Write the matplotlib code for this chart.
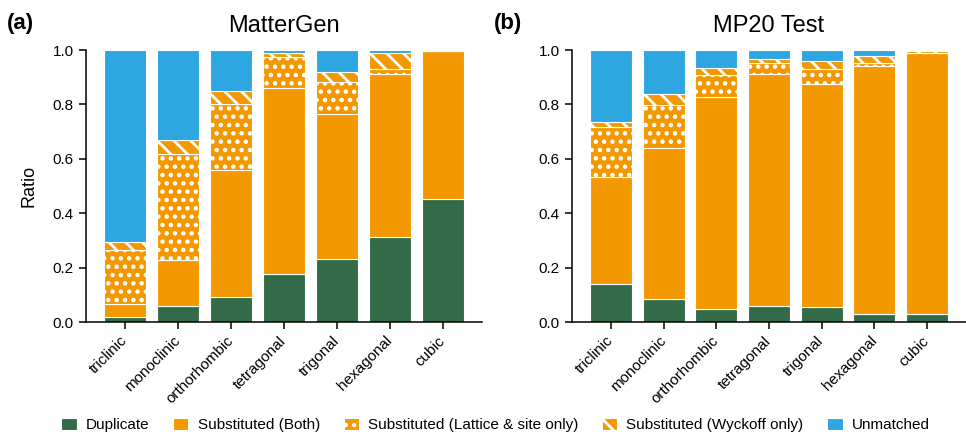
import matplotlib
matplotlib.use("Agg")
import matplotlib.pyplot as plt
import numpy as np

plt.rcParams["font.family"] = ["Liberation Sans", "DejaVu Sans"]
plt.rcParams["hatch.linewidth"] = 2.0

systems = ["triclinic", "monoclinic", "orthorhombic", "tetragonal",
           "trigonal", "hexagonal", "cubic"]

categories = ["Duplicate", "Substituted (Both)",
              "Substituted (Lattice & site only)",
              "Substituted (Wyckoff only)", "Unmatched"]

# MatterGen fractions per crystal system
mg_duplicate = [0.020, 0.060, 0.093, 0.176, 0.233, 0.312, 0.453]
mg_both      = [0.045, 0.168, 0.465, 0.683, 0.531, 0.599, 0.543]
mg_lattice   = [0.200, 0.390, 0.245, 0.117, 0.120, 0.018, 0.000]
mg_wyckoff   = [0.030, 0.050, 0.048, 0.012, 0.034, 0.059, 0.000]
mg_unmatched = [0.705, 0.332, 0.149, 0.012, 0.082, 0.012, 0.000]

# MP20 test-set fractions per crystal system
mp_duplicate = [0.140, 0.085, 0.048, 0.060, 0.054, 0.028, 0.028]
mp_both      = [0.394, 0.555, 0.778, 0.852, 0.821, 0.913, 0.960]
mp_lattice   = [0.184, 0.159, 0.081, 0.039, 0.055, 0.010, 0.000]
mp_wyckoff   = [0.018, 0.038, 0.026, 0.015, 0.028, 0.028, 0.008]
mp_unmatched = [0.264, 0.163, 0.067, 0.034, 0.042, 0.021, 0.004]

green = "#336a48"
orange = "#f39800"
blue = "#2ea7e0"
styles = [
    dict(color=green, hatch=None),
    dict(color=orange, hatch=None),
    dict(color=orange, hatch=".."),
    dict(color=orange, hatch="\\\\"),
    dict(color=blue, hatch=None),
]

fig = plt.figure(figsize=(9.66, 4.34), dpi=100)
ax_a = fig.add_axes([86 / 966, 112 / 434, 396 / 966, 272 / 434])
ax_b = fig.add_axes([572 / 966, 112 / 434, 394 / 966, 272 / 434])


def stacked(ax, series, title):
    x = np.arange(len(systems))
    bottom = np.zeros(len(systems))
    containers = []
    for vals, st, name in zip(series, styles, categories):
        vals = np.asarray(vals)
        bc = ax.bar(x, vals, width=0.8, bottom=bottom, color=st["color"],
                    hatch=st["hatch"], edgecolor="white", linewidth=0.8,
                    label=name)
        containers.append(bc)
        bottom = bottom + vals
    ax.set_xlim(-0.74, 6.74)
    ax.set_ylim(0, 1.0)
    ax.set_yticks(np.arange(0, 1.01, 0.2))
    ax.set_yticklabels([f"{v:.1f}" for v in np.arange(0, 1.01, 0.2)])
    ax.set_xticks(x)
    ax.set_xticklabels(systems, rotation=45, ha="right", va="center",
                       rotation_mode="anchor")
    for side in ("top", "right"):
        ax.spines[side].set_visible(False)
    for side in ("left", "bottom"):
        ax.spines[side].set_linewidth(1.1)
    ax.tick_params(axis="both", labelsize=11, length=5, width=1.1,
                   direction="out", pad=4)
    ax.tick_params(axis="x", pad=7)
    ax.set_title(title, fontsize=17, pad=13)
    return containers


conts = stacked(ax_a, [mg_duplicate, mg_both, mg_lattice, mg_wyckoff,
                       mg_unmatched], "MatterGen")
stacked(ax_b, [mp_duplicate, mp_both, mp_lattice, mp_wyckoff,
               mp_unmatched], "MP20 Test")

ax_a.set_ylabel("Ratio", fontsize=13, labelpad=11)

fig.text(7 / 966, 1 - 29 / 434, "(a)", fontsize=16, fontweight="bold",
         va="baseline", ha="left")
fig.text(494 / 966, 1 - 29 / 434, "(b)", fontsize=16, fontweight="bold",
         va="baseline", ha="left")

fig.legend(handles=conts, labels=categories, loc="center",
           bbox_to_anchor=(0.513, 9 / 434), ncol=5, frameon=False,
           fontsize=11, handlelength=1.0, handleheight=0.9,
           handletextpad=0.6, columnspacing=1.55)

fig.savefig("out.png", dpi=100)
